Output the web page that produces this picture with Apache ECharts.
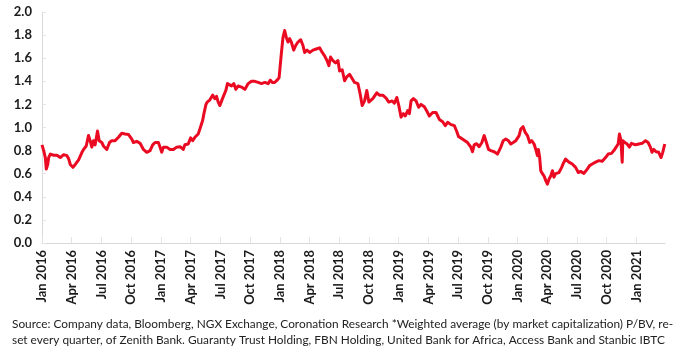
<!DOCTYPE html>
<html>
<head>
<meta charset="utf-8">
<script src="https://cdn.jsdelivr.net/npm/echarts@6/dist/echarts.min.js"></script>
<style>
html,body{margin:0;padding:0;background:#fff;}
#chart{width:695px;height:357px;}
</style>
</head>
<body>
<div id="chart"></div>
<script>
// Dates as decimal years
var dates = [
2016.000,2016.014,2016.028,2016.036,2016.048,2016.056,2016.070,2016.098,2016.126,2016.154,
2016.182,2016.210,2016.224,2016.238,2016.260,2016.280,2016.308,2016.336,2016.350,2016.372,
2016.391,2016.405,2016.419,2016.433,2016.447,2016.467,2016.481,2016.503,2016.517,2016.545,
2016.568,2016.587,2016.615,2016.643,2016.671,2016.699,2016.727,2016.755,2016.769,2016.797,
2016.825,2016.853,2016.881,2016.909,2016.931,2016.951,2016.979,2016.993,2017.007,2017.021,
2017.049,2017.077,2017.105,2017.133,2017.161,2017.188,2017.202,2017.230,2017.250,2017.267,
2017.286,2017.314,2017.328,2017.351,2017.362,2017.379,2017.390,2017.412,2017.435,2017.454,
2017.468,2017.482,2017.496,2017.518,2017.530,2017.546,2017.560,2017.574,2017.594,2017.614,
2017.630,2017.650,2017.678,2017.706,2017.734,2017.762,2017.790,2017.818,2017.846,2017.874,
2017.902,2017.921,2017.938,2017.957,2017.977,2017.994,2018.013,2018.027,2018.041,2018.055,
2018.069,2018.083,2018.097,2018.117,2018.134,2018.153,2018.176,2018.195,2018.209,2018.229,
2018.251,2018.279,2018.307,2018.335,2018.357,2018.377,2018.397,2018.413,2018.427,2018.447,
2018.469,2018.489,2018.503,2018.525,2018.545,2018.564,2018.587,2018.629,2018.657,2018.676,
2018.693,2018.713,2018.732,2018.749,2018.782,2018.816,2018.838,2018.866,2018.894,2018.917,
2018.945,2018.964,2018.984,2019.001,2019.020,2019.040,2019.056,2019.076,2019.090,2019.104,
2019.124,2019.146,2019.168,2019.188,2019.216,2019.235,2019.258,2019.286,2019.314,2019.342,
2019.370,2019.392,2019.412,2019.440,2019.468,2019.487,2019.504,2019.523,2019.551,2019.579,
2019.607,2019.621,2019.635,2019.655,2019.677,2019.700,2019.719,2019.733,2019.756,2019.775,
2019.803,2019.831,2019.859,2019.879,2019.901,2019.923,2019.943,2019.963,2019.985,2020.013,
2020.027,2020.046,2020.063,2020.083,2020.102,2020.119,2020.139,2020.153,2020.167,2020.175,
2020.186,2020.195,2020.209,2020.223,2020.237,2020.251,2020.265,2020.279,2020.293,2020.306,
2020.320,2020.348,2020.371,2020.382,2020.404,2020.432,2020.460,2020.488,2020.511,2020.530,
2020.558,2020.586,2020.606,2020.628,2020.656,2020.684,2020.712,2020.740,2020.762,2020.790,
2020.810,2020.829,2020.846,2020.857,2020.869,2020.880,2020.885,2020.902,2020.922,2020.941,
2020.958,2020.992,2021.020,2021.048,2021.076,2021.098,2021.117,2021.131,2021.145,2021.165,
2021.187,2021.207,2021.221,2021.238
];
// Weighted average P/BV
var pbv = [
0.85,0.80,0.74,0.64,0.68,0.74,0.77,0.76,0.76,0.74,
0.765,0.756,0.73,0.68,0.655,0.68,0.72,0.785,0.81,0.84,
0.93,0.886,0.83,0.886,0.85,0.97,0.886,0.87,0.84,0.81,
0.87,0.886,0.886,0.915,0.95,0.944,0.94,0.90,0.87,0.88,
0.863,0.81,0.785,0.80,0.85,0.87,0.87,0.83,0.785,0.83,
0.83,0.81,0.81,0.83,0.834,0.81,0.85,0.857,0.91,0.886,
0.915,0.944,0.987,1.06,1.12,1.20,1.22,1.24,1.28,1.25,
1.27,1.22,1.19,1.25,1.28,1.32,1.38,1.38,1.36,1.38,
1.33,1.36,1.35,1.33,1.38,1.40,1.40,1.39,1.38,1.39,
1.38,1.41,1.39,1.39,1.41,1.43,1.64,1.78,1.84,1.78,
1.74,1.77,1.74,1.67,1.71,1.74,1.76,1.71,1.65,1.67,
1.65,1.67,1.68,1.69,1.65,1.62,1.58,1.535,1.61,1.58,
1.56,1.58,1.49,1.50,1.405,1.44,1.46,1.39,1.38,1.29,
1.19,1.23,1.32,1.22,1.25,1.30,1.28,1.28,1.255,1.22,
1.23,1.21,1.26,1.19,1.09,1.12,1.10,1.146,1.12,1.23,
1.25,1.23,1.175,1.20,1.18,1.146,1.10,1.13,1.13,1.07,
1.05,1.016,1.045,1.025,1.016,0.97,0.92,0.91,0.89,0.87,
0.83,0.79,0.85,0.86,0.834,0.87,0.93,0.886,0.81,0.80,
0.79,0.77,0.83,0.886,0.90,0.886,0.857,0.87,0.886,0.93,
0.987,1.007,0.96,0.93,0.87,0.886,0.857,0.81,0.756,0.81,
0.74,0.626,0.60,0.58,0.54,0.51,0.554,0.58,0.626,0.57,
0.60,0.61,0.655,0.684,0.727,0.70,0.684,0.655,0.61,0.62,
0.603,0.64,0.67,0.684,0.70,0.713,0.707,0.74,0.77,0.776,
0.80,0.83,0.857,0.944,0.89,0.70,0.886,0.87,0.857,0.83,
0.863,0.85,0.857,0.863,0.886,0.87,0.83,0.785,0.81,0.79,
0.785,0.74,0.785,0.857
];
var quarterNames = ['Jan','Apr','Jul','Oct'];
var sourceLines = [
'Source: Company data, Bloomberg, NGX Exchange, Coronation Research *Weighted average (by market capitalization) P/BV, re-',
'set every quarter, of Zenith Bank. Guaranty Trust Holding, FBN Holding, United Bank for Africa, Access Bank and Stanbic IBTC'
];

var seriesData = dates.map(function(d, i){ return [d, pbv[i]]; });
var chart = echarts.init(document.getElementById('chart'), null, {renderer:'canvas'});
chart.setOption({
  animation: false,
  backgroundColor: '#ffffff',
  grid: {left: 42, right: 30, top: 12, bottom: 114, containLabel: false},
  xAxis: {
    type: 'value',
    min: 2016, max: 2021.24, interval: 0.25,
    axisLine: {show: true, lineStyle: {color: '#d9d9d9', width: 1}},
    axisTick: {show: true, inside: true, length: 6, lineStyle: {color: '#e3e3e3'}},
    splitLine: {show: false},
    axisLabel: {
      rotate: 90, margin: 7,
      fontFamily: 'Lato', fontWeight: 'bold', fontSize: 13, color: '#1a1a1a',
      showMaxLabel: false,
      formatter: function(v){
        var y = Math.floor(v + 1e-6);
        var q = Math.round((v - y) * 4);
        if (Math.abs((v - y) * 4 - q) > 0.01 || q > 3) return '';
        return quarterNames[q] + ' ' + y;
      }
    }
  },
  yAxis: {
    type: 'value', min: 0, max: 2, interval: 0.2,
    axisLine: {show: true, lineStyle: {color: '#d9d9d9'}},
    axisTick: {show: true, inside: true, length: 4, lineStyle: {color: '#e3e3e3'}},
    splitLine: {show: false},
    axisLabel: {
      margin: 10, fontFamily: 'Lato', fontWeight: 'bold', fontSize: 13, color: '#1a1a1a',
      formatter: function(v){ return v.toFixed(1); }
    }
  },
  series: [{
    type: 'line',
    data: seriesData,
    showSymbol: false,
    lineStyle: {color: '#ea0b22', width: 3, join: 'round'},
    itemStyle: {color: '#ea0b22'}
  }],
  graphic: [
    {type: 'text', left: 12, top: 318, style: {text: sourceLines[0], font: '11.85px Lato', fill: '#222'}},
    {type: 'text', left: 12, top: 334, style: {text: sourceLines[1], font: '11.85px Lato', fill: '#222'}}
  ]
});
</script>
</body>
</html>
